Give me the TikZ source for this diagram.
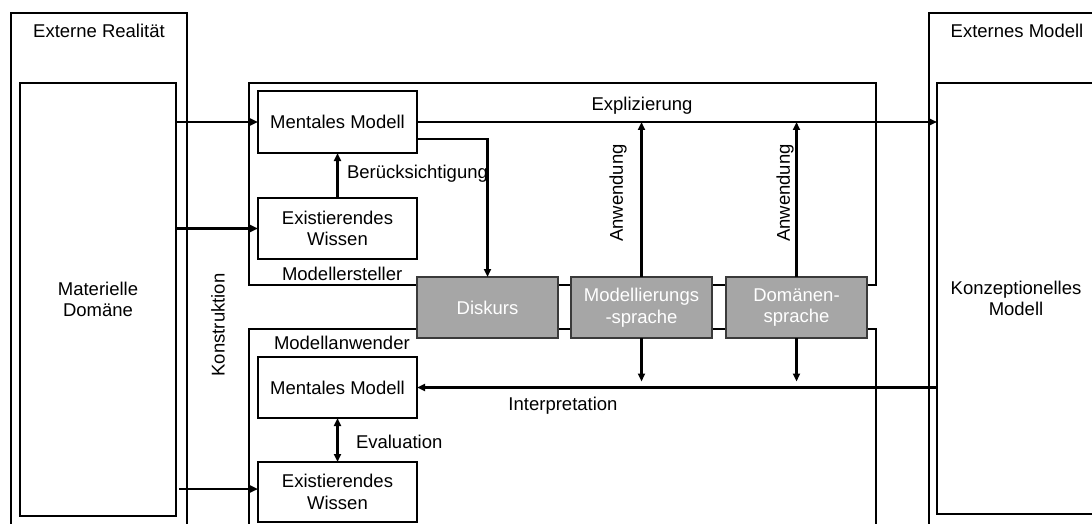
\documentclass[tikz,border=0pt]{standalone}
\usepackage{fontspec}
\setmainfont{Liberation Sans}
\usetikzlibrary{arrows.meta,calc}
\definecolor{boxgrey}{HTML}{A6A6A6}
\definecolor{boxedge}{HTML}{3A3A3A}
\begin{document}
\begin{tikzpicture}[x=1pt,y=-1pt,
  font=\fontsize{18.5}{21.5}\selectfont,
  box/.style={draw, line width=1.1pt, inner sep=0pt, outer sep=0pt, anchor=north west, align=center},
  greybox/.style={box, fill=boxgrey, draw=boxedge, text=white, minimum width=141pt, minimum height=61pt},
  flow/.style={line width=2.1pt, -{Triangle[length=8pt,width=7pt]}},
  twoway/.style={line width=2.1pt, {Triangle[length=8pt,width=7pt]}-{Triangle[length=8pt,width=7pt]}},
  lbl/.style={inner sep=0pt, outer sep=0pt}
]
\useasboundingbox (0,0) rectangle (1092,524);
\clip (0,0) rectangle (1092,524);
\fill[white] (0,0) rectangle (1092,524);

% outer frames
\node[box, minimum width=176pt, minimum height=540pt] (ext) at (11,13) {};
\node[lbl] (extT) at (99,31) {Externe Realität};
\node[box, minimum width=176pt, minimum height=540pt] (mod) at (929,13) {};
\node[lbl] (modT) at (1017,31) {Externes Modell};

% domain and conceptual model
\node[box, minimum width=156pt, minimum height=433pt] (mat) at (20,83) {Materielle\\Domäne};
\node[box, minimum width=158pt, minimum height=431pt] (konz) at (937,83) {Konzeptionelles\\Modell};

% modeller and model user areas
\node[box, minimum width=627pt, minimum height=202pt] (ersteller) at (249,83) {};
\node[lbl, anchor=west] (erstellerT) at (282,274) {Modellersteller};
\node[box, minimum width=627pt, minimum height=220pt] (anwender) at (249,329) {};
\node[lbl, anchor=west] (anwenderT) at (274,343) {Modellanwender};

% inner boxes
\node[box, minimum width=159pt, minimum height=62pt] (mm) at (258,91) {Mentales Modell};
\node[box, minimum width=159pt, minimum height=61pt] (ew) at (258,198) {Existierendes\\Wissen};
\node[box, minimum width=159pt, minimum height=61pt] (mma) at (258,357) {Mentales Modell};
\node[box, minimum width=159pt, minimum height=60pt] (ewa) at (258,462) {Existierendes\\Wissen};

% shared grey boxes
\node[greybox] (disk) at (417,277) {Diskurs};
\node[greybox] (ms) at (571,277) {Modellierungs\\-sprache};
\node[greybox] (ds) at (726,277) {Domänen-\\sprache};

% connectors
\draw[flow] (mat.east |- mm.west) -- (mm.west);
\draw[flow] (mat.east |- ew.west) -- (ew.west);
\draw[flow] ($(mat.east |- ewa.west)+(3,-3)$) -- ($(ewa.west)+(0,-3)$);
\draw[flow] (ew.north) -- (mm.south);
\draw[twoway] (mma.south) -- (ewa.north);
\draw[flow] (mm.east) -- (konz.west |- mm.east);
\draw[flow] ($(mm.east)+(0,17)$) -| (disk.north);
\draw[flow] (ms.north) -- (ms.north |- mm.east);
\draw[flow] (ds.north) -- (ds.north |- mm.east);
\draw[flow] (konz.west |- mma.east) -- (mma.east);
\draw[flow] (ms.south) -- ($(ms.south |- mma.east)+(0,-6)$);
\draw[flow] (ds.south) -- ($(ds.south |- mma.east)+(0,-6)$);

% connector labels
\node[lbl, anchor=west] (lberueck) at (347,174) {Berücksichtigung};
\node[lbl, anchor=west] (leval) at (356,442) {Evaluation};
\node[lbl] (lexpl) at (642,106) {Explizierung};
\node[lbl] (linterp) at (563,406) {Interpretation};
\node[lbl, rotate=90] (lanw1) at (618,193) {Anwendung};
\node[lbl, rotate=90] (lanw2) at (785,193) {Anwendung};
\node[lbl, rotate=90] (lkonst) at (218,325) {Konstruktion};
\end{tikzpicture}
\end{document}
